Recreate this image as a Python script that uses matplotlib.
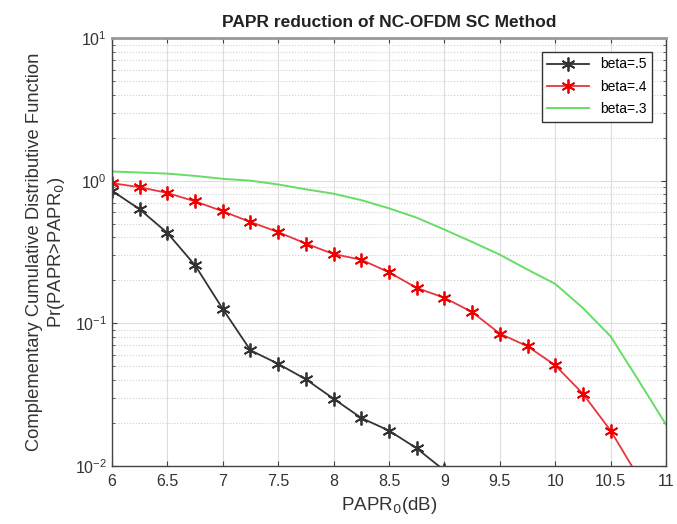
import matplotlib.pyplot as plt
from matplotlib.ticker import LogLocator, NullFormatter

plt.rcParams['font.family'] = ['Liberation Sans', 'DejaVu Sans']

x_b5 = [6, 6.25, 6.5, 6.75, 7, 7.25, 7.5, 7.75, 8, 8.25, 8.5, 8.75, 9]
ccdf_b5 = [0.85, 0.63, 0.43, 0.255, 0.126, 0.0647, 0.052, 0.0405, 0.0296,
           0.0217, 0.0177, 0.0133, 0.0093]

x_b4 = [6, 6.25, 6.5, 6.75, 7, 7.25, 7.5, 7.75, 8, 8.25, 8.5, 8.75, 9,
        9.25, 9.5, 9.75, 10, 10.25, 10.5, 10.75]
ccdf_b4 = [0.96, 0.90, 0.82, 0.716, 0.61, 0.513, 0.436, 0.362, 0.306, 0.279,
           0.228, 0.177, 0.151, 0.120, 0.0847, 0.069, 0.0508, 0.0321, 0.0177,
           0.0084]

x_b3 = [6, 6.25, 6.5, 6.75, 7, 7.25, 7.5, 7.75, 8, 8.25, 8.5, 8.75, 9,
        9.25, 9.5, 9.75, 10, 10.25, 10.5, 10.75, 11]
ccdf_b3 = [1.16, 1.14, 1.12, 1.08, 1.03, 1.0, 0.94, 0.87, 0.81, 0.73, 0.64,
           0.55, 0.454, 0.372, 0.303, 0.238, 0.189, 0.128, 0.081, 0.040,
           0.0195]

fig = plt.figure(figsize=(6.77, 5.24), dpi=100)
ax = fig.add_axes([0.1654, 0.1107, 0.8184, 0.8168])

star = (6, 2, 0)
ax.semilogy(x_b5, ccdf_b5, color='#333333', lw=1.3, marker=star, ms=10, mew=1.3,
            label='beta=.5')
ax.semilogy(x_b4, ccdf_b4, color='#e8353d', lw=1.3, marker=star, ms=10, mew=1.3,
            mec='#ee0000', label='beta=.4')
ax.semilogy(x_b3, ccdf_b3, color='#66dd66', lw=1.4, label='beta=.3')

ax.set_xlim(6, 11)
ax.set_ylim(1e-2, 1e1)
ax.set_xticks([6, 6.5, 7, 7.5, 8, 8.5, 9, 9.5, 10, 10.5, 11])
ax.set_xticklabels(['6', '6.5', '7', '7.5', '8', '8.5', '9', '9.5', '10', '10.5', '11'])
ax.yaxis.set_major_locator(LogLocator(base=10, numticks=10))
ax.yaxis.set_minor_locator(LogLocator(base=10, subs=range(2, 10), numticks=20))
ax.yaxis.set_minor_formatter(NullFormatter())

ax.grid(True, which='major', color='#dddddd', lw=0.8, ls='-')
ax.grid(True, which='minor', axis='y', color='#d0d0d0', lw=0.8, ls=':')
ax.set_axisbelow(True)

ax.tick_params(which='both', direction='in', top=True, right=True,
               labelsize=11.5, colors='#444444', labelcolor='#333333')
ax.tick_params(axis='x', pad=6)
for s in ax.spines.values():
    s.set_color('#444444')
    s.set_linewidth(1.0)
ax.spines['top'].set_color('#999999')
ax.spines['top'].set_linewidth(2.0)

ax.set_title('PAPR reduction of NC-OFDM SC Method', fontsize=12.5, fontweight='bold',
             color='#222222', pad=8)
ax.set_xlabel('PAPR$_0$(dB)', fontsize=13.5, color='#333333', labelpad=4)
ax.set_ylabel('Complementary Cumulative Distributive Function\nPr(PAPR>PAPR$_0$)',
              fontsize=13.2, color='#333333', labelpad=6)

leg = ax.legend(loc='upper right', fontsize=10, fancybox=False, framealpha=1,
                edgecolor='#333333', borderaxespad=1.0, handlelength=3.0,
                labelspacing=0.6)
leg.get_frame().set_linewidth(1.0)

fig.savefig('out.png', dpi=100)
